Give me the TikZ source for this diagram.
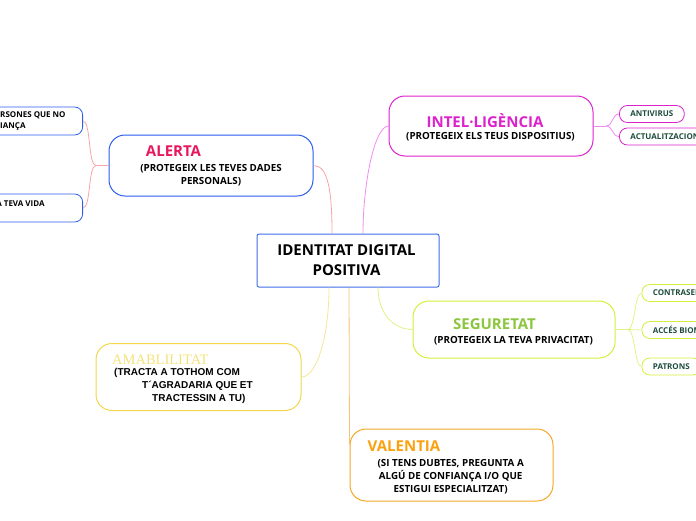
\documentclass[tikz,border=0pt]{standalone}
\usepackage{fontspec}
\setmainfont{Open Sans}
\newfontfamily\amabtitle{Liberation Serif}
\newfontfamily\amabtext{Liberation Sans}

\definecolor{centreblue}{HTML}{3D6FE8}
\definecolor{alertblue}{HTML}{2A5CF0}
\definecolor{alertred}{HTML}{E8175D}
\definecolor{intelpink}{HTML}{DD22CC}
\definecolor{seglime}{HTML}{D4EE3C}
\definecolor{seggreen}{HTML}{8CC63F}
\definecolor{amabgold}{HTML}{F2D64B}
\definecolor{amablight}{HTML}{F5E27A}
\definecolor{valorange}{HTML}{F5A623}
\definecolor{valtitle}{HTML}{FBA10F}
\definecolor{leafgreen}{HTML}{1E4D3B}
\definecolor{alertline}{HTML}{F7A5A5}
\definecolor{intelline}{HTML}{F08CF0}
\definecolor{segline}{HTML}{E2F28A}
\definecolor{amabline}{HTML}{F7E49A}
\definecolor{valline}{HTML}{F8C27A}

\tikzset{
  topicbox/.style={draw, line width=1pt, rounded corners=16pt, minimum width=204pt},
  leafbox/.style={draw, line width=0.8pt, rounded corners=8pt, minimum height=17pt,
    inner xsep=11pt, inner ysep=0pt, text=leafgreen, font=\fontsize{8}{9}\selectfont\bfseries},
  topictitle/.style={inner sep=0pt, font=\fontsize{15}{17}\selectfont\bfseries},
  topictext/.style={inner sep=0pt, align=center, font=\fontsize{9.8}{13}\selectfont\bfseries},
  branch/.style={line width=0.8pt},
}

\begin{document}
\begin{tikzpicture}[x=1pt,y=-1pt]
    \useasboundingbox (0,0) rectangle (696,520);

    % centre
    \node[draw=centreblue, line width=1pt, rounded corners=2pt, minimum width=182pt,
      minimum height=53pt] (centre) at (348,260.5) {};
    \node[inner sep=0pt, align=center, font=\fontsize{15}{20}\selectfont\bfseries]
      (centretxt) at (346.5,260) {IDENTITAT DIGITAL\\POSITIVA};

    % alerta
    \node[topicbox, draw=alertblue, minimum height=61pt] (alerta) at (211,165.5) {};
    \node[topictitle, text=alertred] (alertattl) at (173.5,151) {ALERTA};
    \node[topictext] (alertatxt) at (211,175) {(PROTEGEIX LES TEVES DADES\\PERSONALS)};
    \node[leafbox, draw=alertblue, text=black, anchor=east, inner xsep=17pt, minimum height=28pt,
      align=left, font=\fontsize{8}{11}\selectfont\bfseries] (persones) at (83,121) {RSONES QUE NO\\IANÇA};
    \node[leafbox, draw=alertblue, text=black, anchor=east, inner xsep=38pt, minimum height=28pt,
      text depth=9pt, font=\fontsize{8}{11}\selectfont\bfseries] (vida) at (83,208) {A TEVA VIDA};

    % intel.ligencia
    \node[topicbox, draw=intelpink, minimum height=60pt] (intel) at (491,126) {};
    \node[topictitle, text=intelpink] (inteltt) at (485,120.5) {INTEL·LIGÈNCIA};
    \node[topictext] (inteltxt) at (490.5,136.5) {(PROTEGEIX ELS TEUS DISPOSITIUS)};
    \node[leafbox, draw=intelpink, anchor=west] (antivirus) at (619,114) {ANTIVIRUS};
    \node[leafbox, draw=intelpink, anchor=west] (actualitz) at (619,136.5) {ACTUALITZACIONS};

    % seguretat
    \node[topicbox, draw=seglime, minimum width=202pt, minimum height=57pt] (seguretat) at (514,329.5) {};
    \node[topictitle, text=seggreen] (segttl) at (494.5,324) {SEGURETAT};
    \node[topictext] (segtxt) at (513.5,341) {(PROTEGEIX LA TEVA PRIVACITAT)};
    \node[leafbox, draw=seglime, anchor=west] (contrasenyes) at (641.5,293) {CONTRASENYES};
    \node[leafbox, draw=seglime, anchor=west] (biometric) at (641.5,330) {ACCÉS BIOMÈTRIC};
    \node[leafbox, draw=seglime, anchor=west] (patrons) at (641.5,366.5) {PATRONS};

    % amabilitat
    \node[topicbox, draw=amabgold, minimum width=205pt, minimum height=67pt] (amabilitat) at (198.5,377) {};
    \node[inner sep=0pt, anchor=west, text=amablight, font=\fontsize{14.5}{16}\amabtitle] (amabttl) at (112,359.5) {AMABLILITAT};
    \node[inner sep=0pt, anchor=west, align=left, font=\fontsize{10}{13}\amabtext\bfseries] (amabtxt) at (114,385.5)
      {(TRACTA A TOTHOM COM\\\hspace*{28pt}T´AGRADARIA QUE ET\\\hspace*{38pt}TRACTESSIN A TU)};

    % valentia
    \node[topicbox, draw=valorange, minimum width=203pt, minimum height=72pt] (valentia) at (451.5,465) {};
    \node[topictitle, text=valtitle] (valttl) at (404,446) {VALENTIA};
    \node[topictext] (valtxt) at (450.7,476.5) {(SI TENS DUBTES, PREGUNTA A\\ALGÚ DE CONFIANÇA I/O QUE\\ESTIGUI ESPECIALITZAT)};

    % branches from the centre
    \draw[branch, alertline] (alerta.east) .. controls +(14,0) and +(0,-45) .. ([xshift=-16pt]centre.north);
    \draw[branch, intelline] (intel.west) .. controls +(-14,0) and +(0,-50) .. ([xshift=15pt]centre.north);
    \draw[branch, segline] ([xshift=30pt]centre.south) .. controls +(0,25) and +(-20,0) .. (seguretat.west);
    \draw[branch, amabline] ([xshift=-19pt]centre.south) .. controls +(0,50) and +(15,0) .. (amabilitat.east);
    \draw[branch, valline] ([xshift=1pt]centre.south) -- ([yshift=20pt]valentia.west);

    % leaves
    \coordinate (alertafork) at (96,165.5);
    \draw[branch, alertline] (alerta.west) -- (alertafork);
    \draw[branch, alertline] (alertafork) .. controls +(-8,0) and +(8,0) .. (persones.east);
    \draw[branch, alertline] (alertafork) .. controls +(-8,0) and +(8,0) .. (vida.east);

    \coordinate (intelfork) at (606,126);
    \draw[branch, intelline] (intel.east) -- (intelfork);
    \draw[branch, intelline] (intelfork) .. controls +(7,0) and +(-7,0) .. (antivirus.west);
    \draw[branch, intelline] (intelfork) .. controls +(7,0) and +(-7,0) .. (actualitz.west);

    \coordinate (segfork) at (628,329.5);
    \draw[branch, segline] (seguretat.east) -- (segfork);
    \draw[branch, segline] (segfork) .. controls +(7,0) and +(-7,0) .. (contrasenyes.west);
    \draw[branch, segline] (segfork) .. controls +(7,0) and +(-7,0) .. (biometric.west);
    \draw[branch, segline] (segfork) .. controls +(7,0) and +(-7,0) .. (patrons.west);
\end{tikzpicture}
\end{document}
